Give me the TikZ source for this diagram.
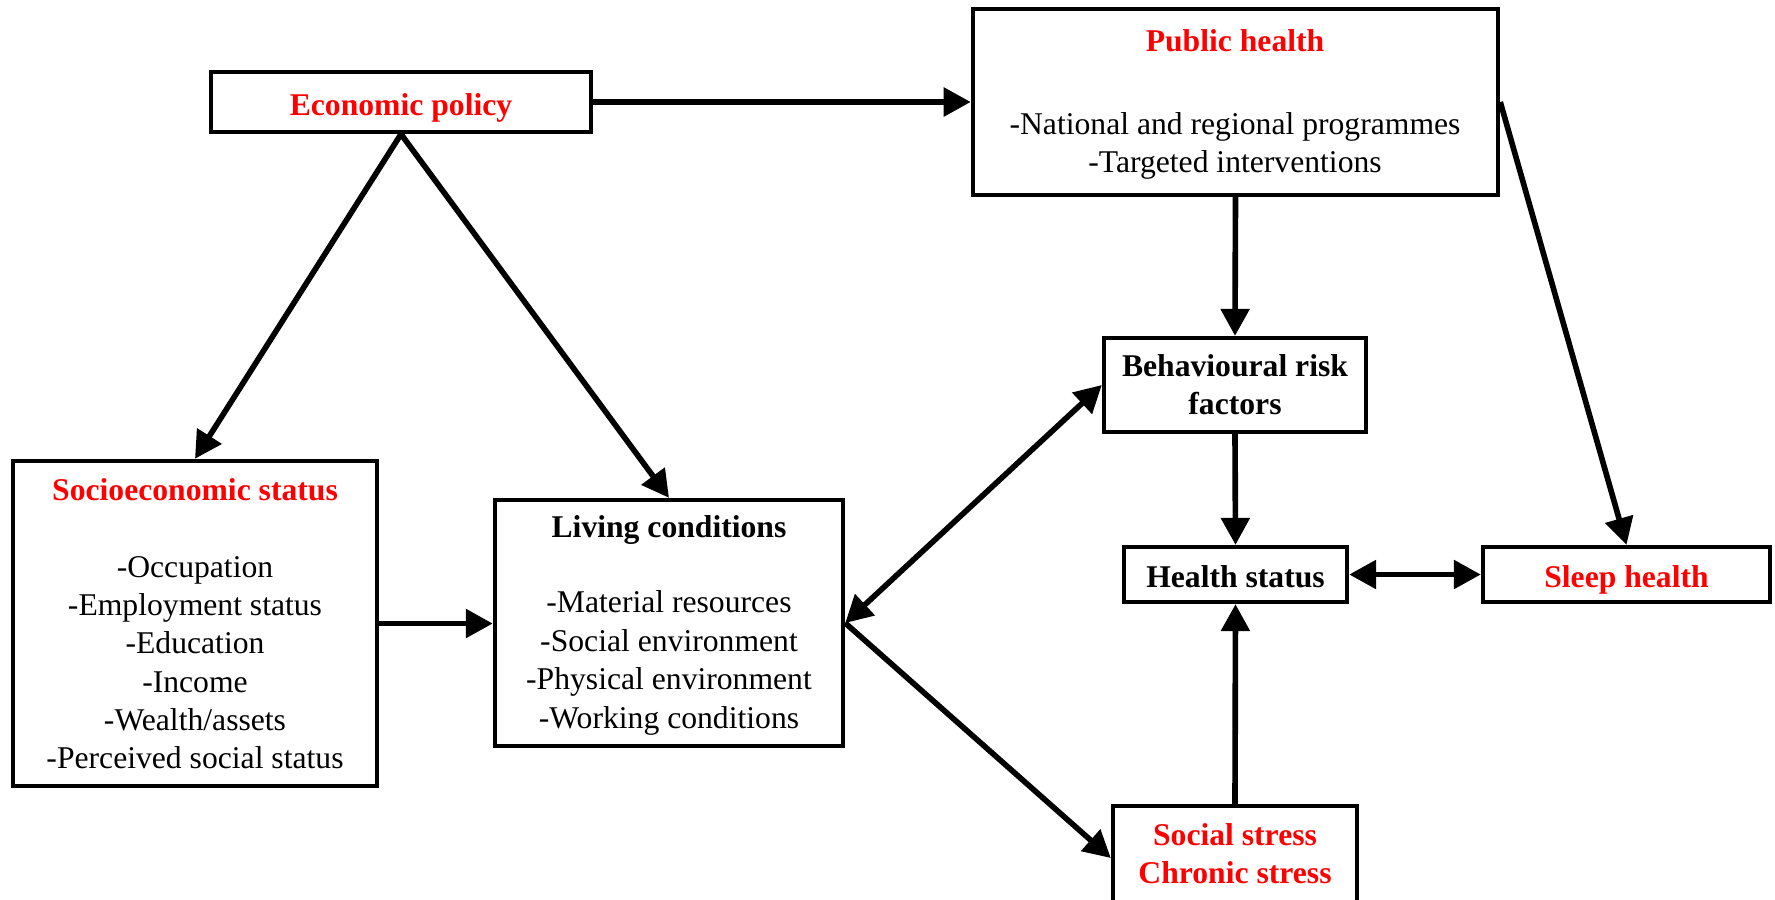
\documentclass[tikz,border=0pt]{standalone}
\usepackage{fontspec}
\setmainfont{Liberation Serif}
\usetikzlibrary{arrows.meta}
\definecolor{rd}{RGB}{255,0,0}
\begin{document}
\begin{tikzpicture}[x=0.01cm,y=-0.01cm,
  box/.style={draw=black,line width=1.2pt,fill=white,inner sep=0pt},
  txt/.style={font=\fontsize{9}{10.8}\selectfont,inner sep=0pt,align=center},
  ttl/.style={font=\fontsize{9}{10.8}\selectfont\bfseries,inner sep=0pt,align=center},
  redttl/.style={ttl,text=rd},
  arr/.style={line width=1.6pt,-{Triangle[length=0.27cm,width=0.28cm]}},
  darr/.style={line width=1.6pt,{Triangle[length=0.27cm,width=0.28cm]}-{Triangle[length=0.27cm,width=0.28cm]}}]
\clip (0,0) rectangle (1775,899);
\fill[white] (0,0) rectangle (1775,899);

% boxes
\node[box,minimum width=3.80cm,minimum height=0.60cm] (ep) at (401,102) {};
\node[redttl,anchor=base] (eptxt) at (401,115) {Economic policy};
\node[box,minimum width=5.25cm,minimum height=1.86cm] (ph) at (1235.5,102) {};
\node[redttl] (phttl) at (1235,41) {Public health};
\node[txt] (phtxt) at (1235,146) {-National and regional programmes\\-Targeted interventions};

\node[box,ttl,minimum width=2.62cm,minimum height=0.94cm] (beh) at (1235,385) {Behavioural risk\\factors};
\node[box,minimum width=2.23cm,minimum height=0.55cm] (hs) at (1235.5,574.5) {};
\node[ttl,anchor=base] (hstxt) at (1235.5,587) {Health status};
\node[box,minimum width=2.87cm,minimum height=0.55cm] (sl) at (1626.5,574.5) {};
\node[redttl,anchor=base] (sltxt) at (1626.5,587) {Sleep health};

\node[box,minimum width=2.44cm,minimum height=1.04cm] (ss) at (1235,858) {};
\node[redttl] (sstxt) at (1235,854) {Social stress\\Chronic stress};

\node[box,minimum width=3.64cm,minimum height=3.25cm] (ses) at (195,623.5) {};
\node[redttl] (sesttl) at (195,490) {Socioeconomic status};
\node[txt,font=\fontsize{9}{10.9}\selectfont] (sestxt) at (195,662.5) {-Occupation\\-Employment status\\-Education\\-Income\\-Wealth/assets\\-Perceived social status};

\node[box,minimum width=3.48cm,minimum height=2.46cm] (lc) at (669,623) {};
\node[ttl] (lcttl) at (669,530) {Living conditions};
\node[txt,font=\fontsize{9}{10.95}\selectfont] (lctxt) at (669,663) {-Material resources\\-Social environment\\-Physical environment\\-Working conditions};

% connectors
\draw[arr] (ep) -- (ph);
\draw[arr] (ep.south) -- (ses.north);
\draw[arr] (ep.south) -- (lc.north);
\draw[arr] (ses.east) -- (ses.east -| lc.west);
\draw[darr] (lc.east) -- (beh.west);
\draw[arr] (lc.east) -- (ss.west);
\draw[arr] (ph.south) -- (beh.north);
\draw[arr] (beh.south) -- (hs.north);
\draw[arr] (ss.north) -- (hs.south);
\draw[darr] (hs.east) -- (sl.west);
\draw[arr] (ph.east) -- (sl.north);
\end{tikzpicture}
\end{document}
